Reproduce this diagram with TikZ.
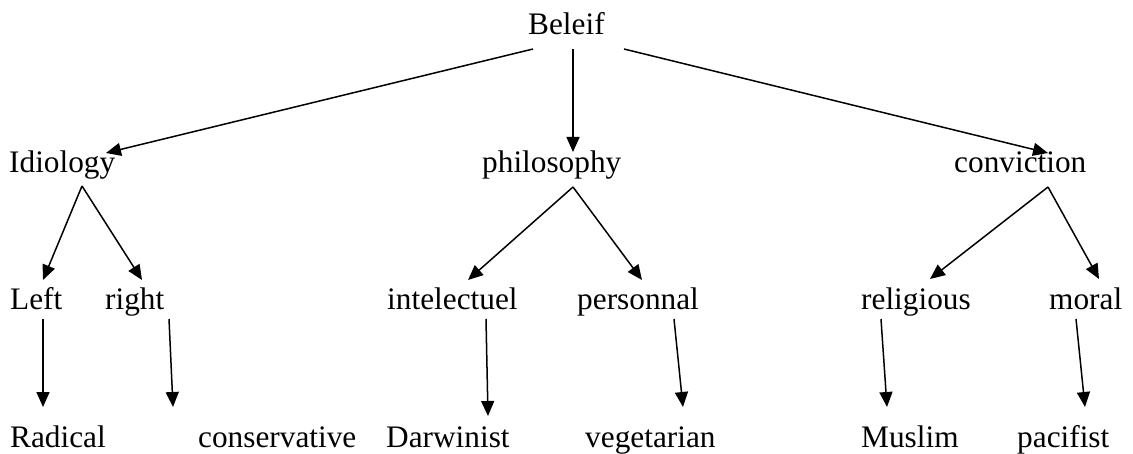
\documentclass[tikz,border=0pt]{standalone}
\usepackage{fontspec}
\setmainfont{Liberation Serif}
\usetikzlibrary{arrows.meta}
\begin{document}
\begin{tikzpicture}[x=1pt,y=-1pt,
  lbl/.style={anchor=base west,inner sep=0pt,font=\fontsize{31.3}{36}\selectfont},
  conn/.style={line width=1.5pt,-{Triangle[length=15pt,width=13pt]}}]
\useasboundingbox (0,0) rectangle (1133,454);
% nodes
\node[lbl] (beleif) at (528,35) {Beleif};
\node[lbl] (idiology) at (9,173) {Idiology};
\node[lbl] (philosophy) at (482,173) {philosophy};
\node[lbl] (conviction) at (954,173) {conviction};
\node[lbl] (left) at (10,310) {Left};
\node[lbl] (right) at (105,310) {right};
\node[lbl] (intel) at (387,310) {intelectuel};
\node[lbl] (personnal) at (577,310) {personnal};
\node[lbl] (religious) at (861,310) {religious};
\node[lbl] (moral) at (1049,310) {moral};
\node[lbl] (radical) at (10,447) {Radical};
\node[lbl] (conservative) at (198,447) {conservative};
\node[lbl] (darwinist) at (386,447) {Darwinist};
\node[lbl] (vegetarian) at (585,447) {vegetarian};
\node[lbl] (muslim) at (861,447) {Muslim};
\node[lbl] (pacifist) at (1017,447) {pacifist};
% connector ends
\coordinate (b1) at (533,49);  \coordinate (i0) at (106,153);
\coordinate (b2) at (573,49);  \coordinate (p0) at (573,152);
\coordinate (b3) at (624,49);  \coordinate (c0) at (1048,153);
\coordinate (iA) at (82,186);  \coordinate (l0) at (43,280);  \coordinate (r0) at (142,280);
\coordinate (pA) at (573,187); \coordinate (in0) at (468,280); \coordinate (pe0) at (642,280);
\coordinate (cA) at (1048,187); \coordinate (re0) at (930,279); \coordinate (mo0) at (1099,279);
\coordinate (l1) at (43,319);   \coordinate (ra0) at (43,407);
\coordinate (r1) at (169,319);  \coordinate (co0) at (173,407);
\coordinate (in1) at (486,319); \coordinate (da0) at (488,416);
\coordinate (pe1) at (674,319); \coordinate (ve0) at (683,407);
\coordinate (re1) at (881,319); \coordinate (mu0) at (887,407);
\coordinate (mo1) at (1076,319); \coordinate (pa0) at (1085,407);
% connectors
\draw[conn] (b1) -- (i0);
\draw[conn] (b2) -- (p0);
\draw[conn] (b3) -- (c0);
\draw[conn] (iA) -- (l0);
\draw[conn] (iA) -- (r0);
\draw[conn] (pA) -- (in0);
\draw[conn] (pA) -- (pe0);
\draw[conn] (cA) -- (re0);
\draw[conn] (cA) -- (mo0);
\draw[conn] (l1) -- (ra0);
\draw[conn] (r1) -- (co0);
\draw[conn] (in1) -- (da0);
\draw[conn] (pe1) -- (ve0);
\draw[conn] (re1) -- (mu0);
\draw[conn] (mo1) -- (pa0);
\end{tikzpicture}
\end{document}
